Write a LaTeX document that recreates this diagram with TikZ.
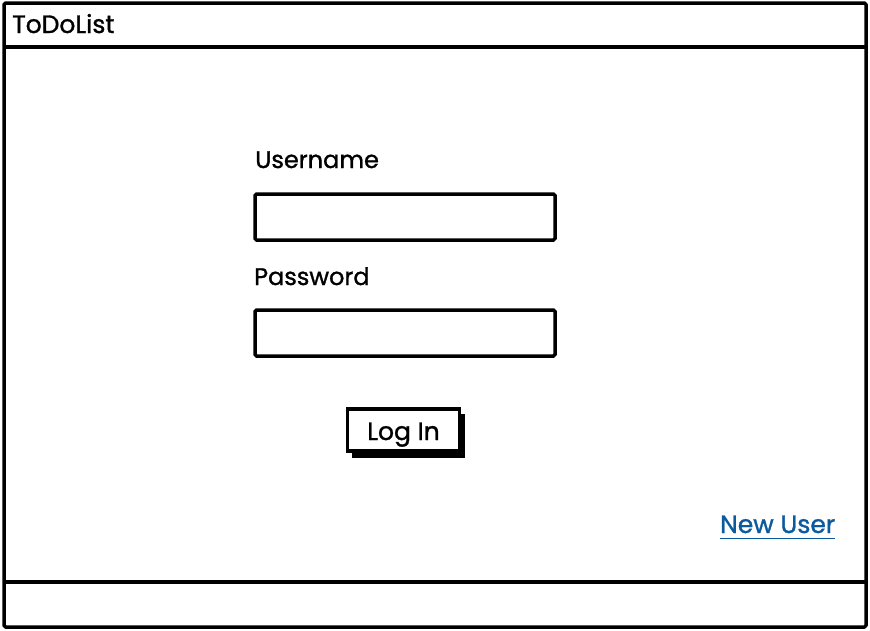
\documentclass[tikz,border=0pt]{standalone}
\usepackage{fontspec}
\setmainfont{Poppins}[FakeBold=1.2]
\definecolor{linkblue}{HTML}{0B5A9E}
\tikzset{
  frame/.style={draw=black, line width=3.5pt, line join=round, rounded corners=1.5pt},
  field/.style={draw=black, line width=3.5pt, fill=white, rounded corners=1.5pt, minimum width=300pt, minimum height=46pt, inner sep=0pt},
  lbl/.style={anchor=base west, inner sep=0pt, font=\fontsize{24}{28}\selectfont},
  btn/.style={draw=black, line width=3.5pt, fill=white, minimum width=112pt, minimum height=42pt, inner sep=0pt, font=\fontsize{25}{29}\selectfont,
    text height=18pt, text depth=6pt},
  shadowbox/.style={fill=black, minimum width=113pt, minimum height=44pt, inner sep=0pt},
}
\begin{document}
\begin{tikzpicture}[x=1pt,y=-1pt]
\useasboundingbox (0,0) rectangle (870,630);
% outer window
\draw[frame] (4,3) rectangle (866,627);
\draw[frame] (4,47) -- (866,47);
\draw[frame] (4,582) -- (866,582);
% title
\node[lbl, font=\fontsize{25}{29}\selectfont] (title) at (12,33) {ToDoList};
% username
\node[lbl] (userlbl) at (255,168) {Username};
\node[field] (userfield) at (405,217) {};
% password
\node[lbl] (passlbl) at (254,285) {Password};
\node[field] (passfield) at (405,333) {};
% log in button
\node[shadowbox] (shadow) at (408.5,435.5) {};
\node[btn] (login) at (403.5,430) {};
\node[anchor=base, inner sep=0pt, font=\fontsize{25}{29}\selectfont] (logintext) at (403.5,440) {Log In};
% new user link
\node[lbl, text=linkblue, font=\fontsize{25}{29}\selectfont] (newuser) at (720,533) {New User};
\draw[linkblue, line width=1.8pt] (newuser.south west) ++(0,5) -- ([yshift=-5pt]newuser.south east);
\end{tikzpicture}
\end{document}
